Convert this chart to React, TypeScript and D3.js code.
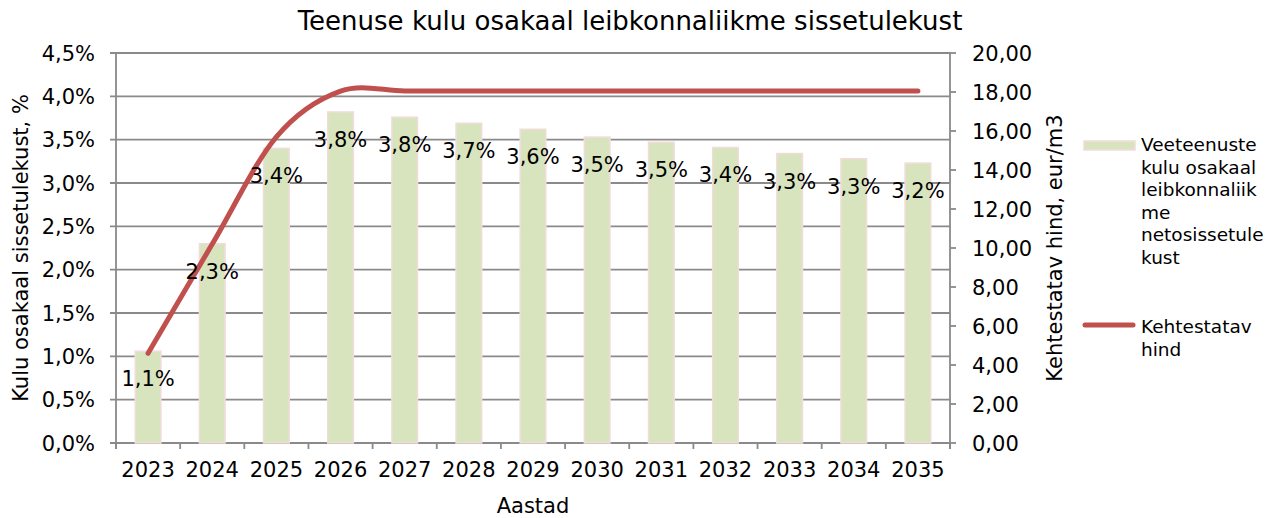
import React from "react";
import * as d3 from "d3";

const years = ["2023","2024","2025","2026","2027","2028","2029","2030","2031","2032","2033","2034","2035"];
const shareValues = [1.06, 2.30, 3.40, 3.82, 3.76, 3.69, 3.62, 3.53, 3.47, 3.41, 3.34, 3.28, 3.23];
const priceValues = [4.6, 10.2, 15.7, 18.05, 18.05, 18.05, 18.05, 18.05, 18.05, 18.05, 18.05, 18.05, 18.05];
const leftTicks = [0, 0.5, 1, 1.5, 2, 2.5, 3, 3.5, 4, 4.5];
const rightTicks = [0, 2, 4, 6, 8, 10, 12, 14, 16, 18, 20];
const title = "Teenuse kulu osakaal leibkonnaliikme sissetulekust";
const leftTitle = "Kulu osakaal sissetulekust, %";
const rightTitle = "Kehtestatav hind, eur/m3";
const xTitle = "Aastad";
const legendBarLines = ["Veeteenuste", "kulu osakaal", "leibkonnaliik", "me", "netosissetule", "kust"];
const legendLineLines = ["Kehtestatav", "hind"];

const W = 1280, H = 518;
const L = 116, R = 950, T = 53, B = 443;
const FONT = "'DejaVu Sans', Verdana, sans-serif";
const GRID = "#8a8a8a";
const BAR_FILL = "#D7E4BD";
const BAR_STROKE = "#F2DCDB";
const LINE = "#C0504D";
const FS = 21;

const fmt = (v: number, d: number) => v.toFixed(d).replace(".", ",");

export default function App() {
  const x = d3.scaleBand<string>().domain(years).range([L, R]).paddingInner(0).paddingOuter(0);
  const yL = d3.scaleLinear().domain([0, 4.5]).range([B, T]);
  const yR = d3.scaleLinear().domain([0, 20]).range([B, T]);
  const bw = x.bandwidth() * 0.4;
  const line = d3
    .line<number>()
    .x((_, i) => (x(years[i]) as number) + x.bandwidth() / 2)
    .y((d) => yR(d))
    .curve(d3.curveCardinal.tension(0));
  const boundaries = years.map((y) => x(y) as number).concat([R]);

  return (
    <svg width={W} height={H} style={{ position: "absolute", left: 0, top: 0, background: "#fff" }} fontFamily={FONT}>
      <text x={630} y={30} fontSize={26} textAnchor="middle" fill="#000">{title}</text>
      {/* gridlines */}
      {leftTicks.map((t) => (
        <line key={"g" + t} x1={L - 6} x2={R} y1={yL(t)} y2={yL(t)} stroke={GRID} strokeWidth={1.8} />
      ))}
      {/* axes */}
      <line x1={L} x2={L} y1={T} y2={B + 6} stroke={GRID} strokeWidth={1.8} />
      <line x1={R} x2={R} y1={T} y2={B + 6} stroke={GRID} strokeWidth={1.8} />
      {boundaries.map((bx, i) => (
        <line key={"xt" + i} x1={bx} x2={bx} y1={B} y2={B + 6} stroke={GRID} strokeWidth={1.8} />
      ))}
      {rightTicks.map((t) => (
        <line key={"rt" + t} x1={R} x2={R + 6} y1={yR(t)} y2={yR(t)} stroke={GRID} strokeWidth={1.8} />
      ))}
      {/* bars */}
      {shareValues.map((v, i) => {
        const cx = (x(years[i]) as number) + x.bandwidth() / 2;
        return (
          <rect key={"b" + i} x={cx - bw / 2} y={yL(v)} width={bw} height={B - yL(v)} fill={BAR_FILL} stroke={BAR_STROKE} strokeWidth={1.5} />
        );
      })}
      {/* line */}
      <path d={line(priceValues) || ""} fill="none" stroke={LINE} strokeWidth={5} strokeLinecap="round" />
      {/* data labels */}
      {shareValues.map((v, i) => {
        const cx = (x(years[i]) as number) + x.bandwidth() / 2;
        return (
          <text key={"l" + i} x={cx} y={yL(v) + 35} fontSize={FS} textAnchor="middle" fill="#000">{fmt(v, 1) + "%"}</text>
        );
      })}
      {/* left tick labels */}
      {leftTicks.map((t) => (
        <text key={"lt" + t} x={L - 21} y={yL(t) + 7.5} fontSize={FS} textAnchor="end" fill="#000">{fmt(t, 1) + "%"}</text>
      ))}
      {/* right tick labels */}
      {rightTicks.map((t) => (
        <text key={"rl" + t} x={R + 22} y={yR(t) + 7.5} fontSize={FS} textAnchor="start" fill="#000">{fmt(t, 2)}</text>
      ))}
      {/* x tick labels */}
      {years.map((y) => (
        <text key={"xl" + y} x={(x(y) as number) + x.bandwidth() / 2} y={477} fontSize={FS} textAnchor="middle" fill="#000">{y}</text>
      ))}
      <text x={(L + R) / 2} y={513} fontSize={FS} textAnchor="middle" fill="#000">{xTitle}</text>
      <text transform={`translate(28, ${(T + B) / 2}) rotate(-90)`} fontSize={FS} textAnchor="middle" fill="#000">{leftTitle}</text>
      <text transform={`translate(1062, ${(T + B) / 2}) rotate(-90)`} fontSize={FS} textAnchor="middle" fill="#000">{rightTitle}</text>
      {/* legend */}
      <rect x={1084} y={141} width={51} height={9} fill={BAR_FILL} stroke={BAR_STROKE} strokeWidth={1.5} />
      {legendBarLines.map((s, i) => (
        <text key={"lb" + i} x={1141} y={151 + i * 22.6} fontSize={18.5} fill="#000">{s}</text>
      ))}
      <line x1={1085} x2={1133} y1={325} y2={325} stroke={LINE} strokeWidth={5} strokeLinecap="round" />
      {legendLineLines.map((s, i) => (
        <text key={"ll" + i} x={1141} y={333 + i * 22.6} fontSize={18.5} fill="#000">{s}</text>
      ))}
    </svg>
  );
}
